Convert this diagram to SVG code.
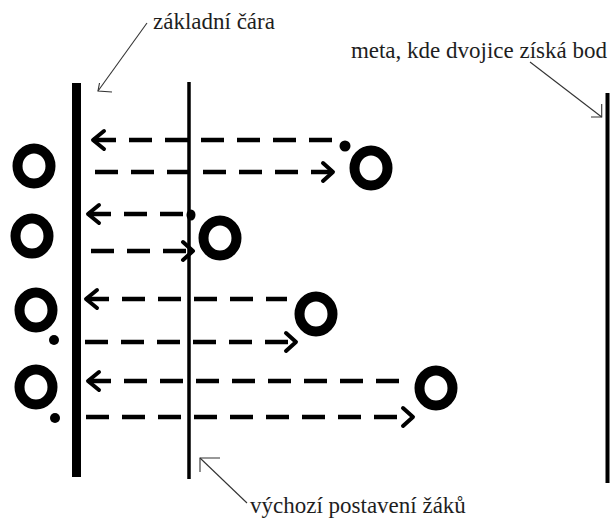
<svg xmlns="http://www.w3.org/2000/svg" width="610" height="524" viewBox="0 0 610 524">
  <defs>
    <style>
      .leader { fill: none; stroke: #333; stroke-width: 1.1; }
      .player { fill: none; stroke: #000; stroke-width: 10; }
      .ball { fill: #000; }
      .run { fill: none; stroke: #000; stroke-width: 4.5; stroke-dasharray: 23 13; }
      .head { fill: none; stroke: #000; stroke-width: 4; stroke-linecap: round; stroke-linejoin: round; }
    </style>
  </defs>
  <rect width="610" height="524" fill="#fff"/>

  <!-- field lines -->
  <g id="baseline"><line x1="76.5" y1="83" x2="76.5" y2="477" stroke="#000" stroke-width="9"/></g>
  <g id="startline"><line x1="189" y1="82" x2="189" y2="479" stroke="#000" stroke-width="3.5"/></g>
  <g id="finishline"><line x1="607.5" y1="93" x2="607.5" y2="483" stroke="#000" stroke-width="4"/></g>

  <!-- labels with leader arrows -->
  <g font-family="'Liberation Serif', 'DejaVu Serif', serif" font-size="23" fill="#1e1e1e">
    <g id="label-baseline">
      <text x="153" y="29">základní čára</text>
      <line class="leader" x1="147" y1="23" x2="98" y2="91"/>
      <polyline class="leader" points="99.5,83 98,91 112,92"/>
    </g>
    <g id="label-finish">
      <text x="607" y="58" text-anchor="end">meta, kde dvojice získá bod</text>
      <line class="leader" x1="530" y1="62" x2="601.7" y2="117"/>
      <polyline class="leader" points="601.7,104 601.7,117 591,117"/>
    </g>
    <g id="label-start">
      <text x="250" y="513">výchozí postavení žáků</text>
      <line class="leader" x1="247" y1="503" x2="200" y2="458"/>
      <polyline class="leader" points="200,472 200,458 220,458"/>
    </g>
  </g>

  <!-- players at the base line -->
  <g id="player-a1"><ellipse class="player" cx="34" cy="166" rx="16.5" ry="17.5"/></g>
  <g id="player-b1"><ellipse class="player" cx="32" cy="236" rx="16.5" ry="17.5"/></g>
  <g id="player-c1"><ellipse class="player" cx="36" cy="310" rx="16.5" ry="17.5"/></g>
  <g id="player-d1"><ellipse class="player" cx="36" cy="387" rx="16.5" ry="17.5"/></g>

  <!-- partners in their starting positions -->
  <g id="player-a2"><ellipse class="player" cx="371" cy="168" rx="16.5" ry="17.5"/></g>
  <g id="player-b2"><ellipse class="player" cx="220" cy="238" rx="16.5" ry="17.5"/></g>
  <g id="player-c2"><ellipse class="player" cx="316" cy="314" rx="16.5" ry="17.5"/></g>
  <g id="player-d2"><ellipse class="player" cx="436" cy="388" rx="16.5" ry="17.5"/></g>

  <!-- balls -->
  <g id="ball-a"><circle class="ball" cx="345" cy="146" r="5.5"/></g>
  <g id="ball-b"><ellipse class="ball" cx="191" cy="215" rx="4.5" ry="5.5"/></g>
  <g id="ball-c"><circle class="ball" cx="54" cy="340" r="5"/></g>
  <g id="ball-d"><circle class="ball" cx="55" cy="418" r="5"/></g>

  <!-- runs: out to the base line and back -->
  <g id="connectors">
    <line class="run" x1="93" y1="140" x2="338" y2="140"/>
    <polyline class="head" points="104,131 93,140 104,149"/>
    <line class="run" x1="95" y1="172" x2="333" y2="172"/>
    <polyline class="head" points="323,163 333,172 323,181"/>

    <line class="run" x1="88" y1="214" x2="187" y2="214"/>
    <polyline class="head" points="99,205 88,214 99,223"/>
    <line class="run" x1="91" y1="251" x2="193" y2="251"/>
    <polyline class="head" points="183,242 193,251 183,260"/>

    <line class="run" x1="86" y1="299" x2="287" y2="299"/>
    <polyline class="head" points="97,290 86,299 97,308"/>
    <line class="run" x1="85" y1="342" x2="296" y2="342"/>
    <polyline class="head" points="286,333 296,342 286,351"/>

    <line class="run" x1="88" y1="381" x2="408" y2="381"/>
    <polyline class="head" points="99,372 88,381 99,390"/>
    <line class="run" x1="86" y1="417" x2="413" y2="417"/>
    <polyline class="head" points="403,408 413,417 403,426"/>
  </g>
</svg>
